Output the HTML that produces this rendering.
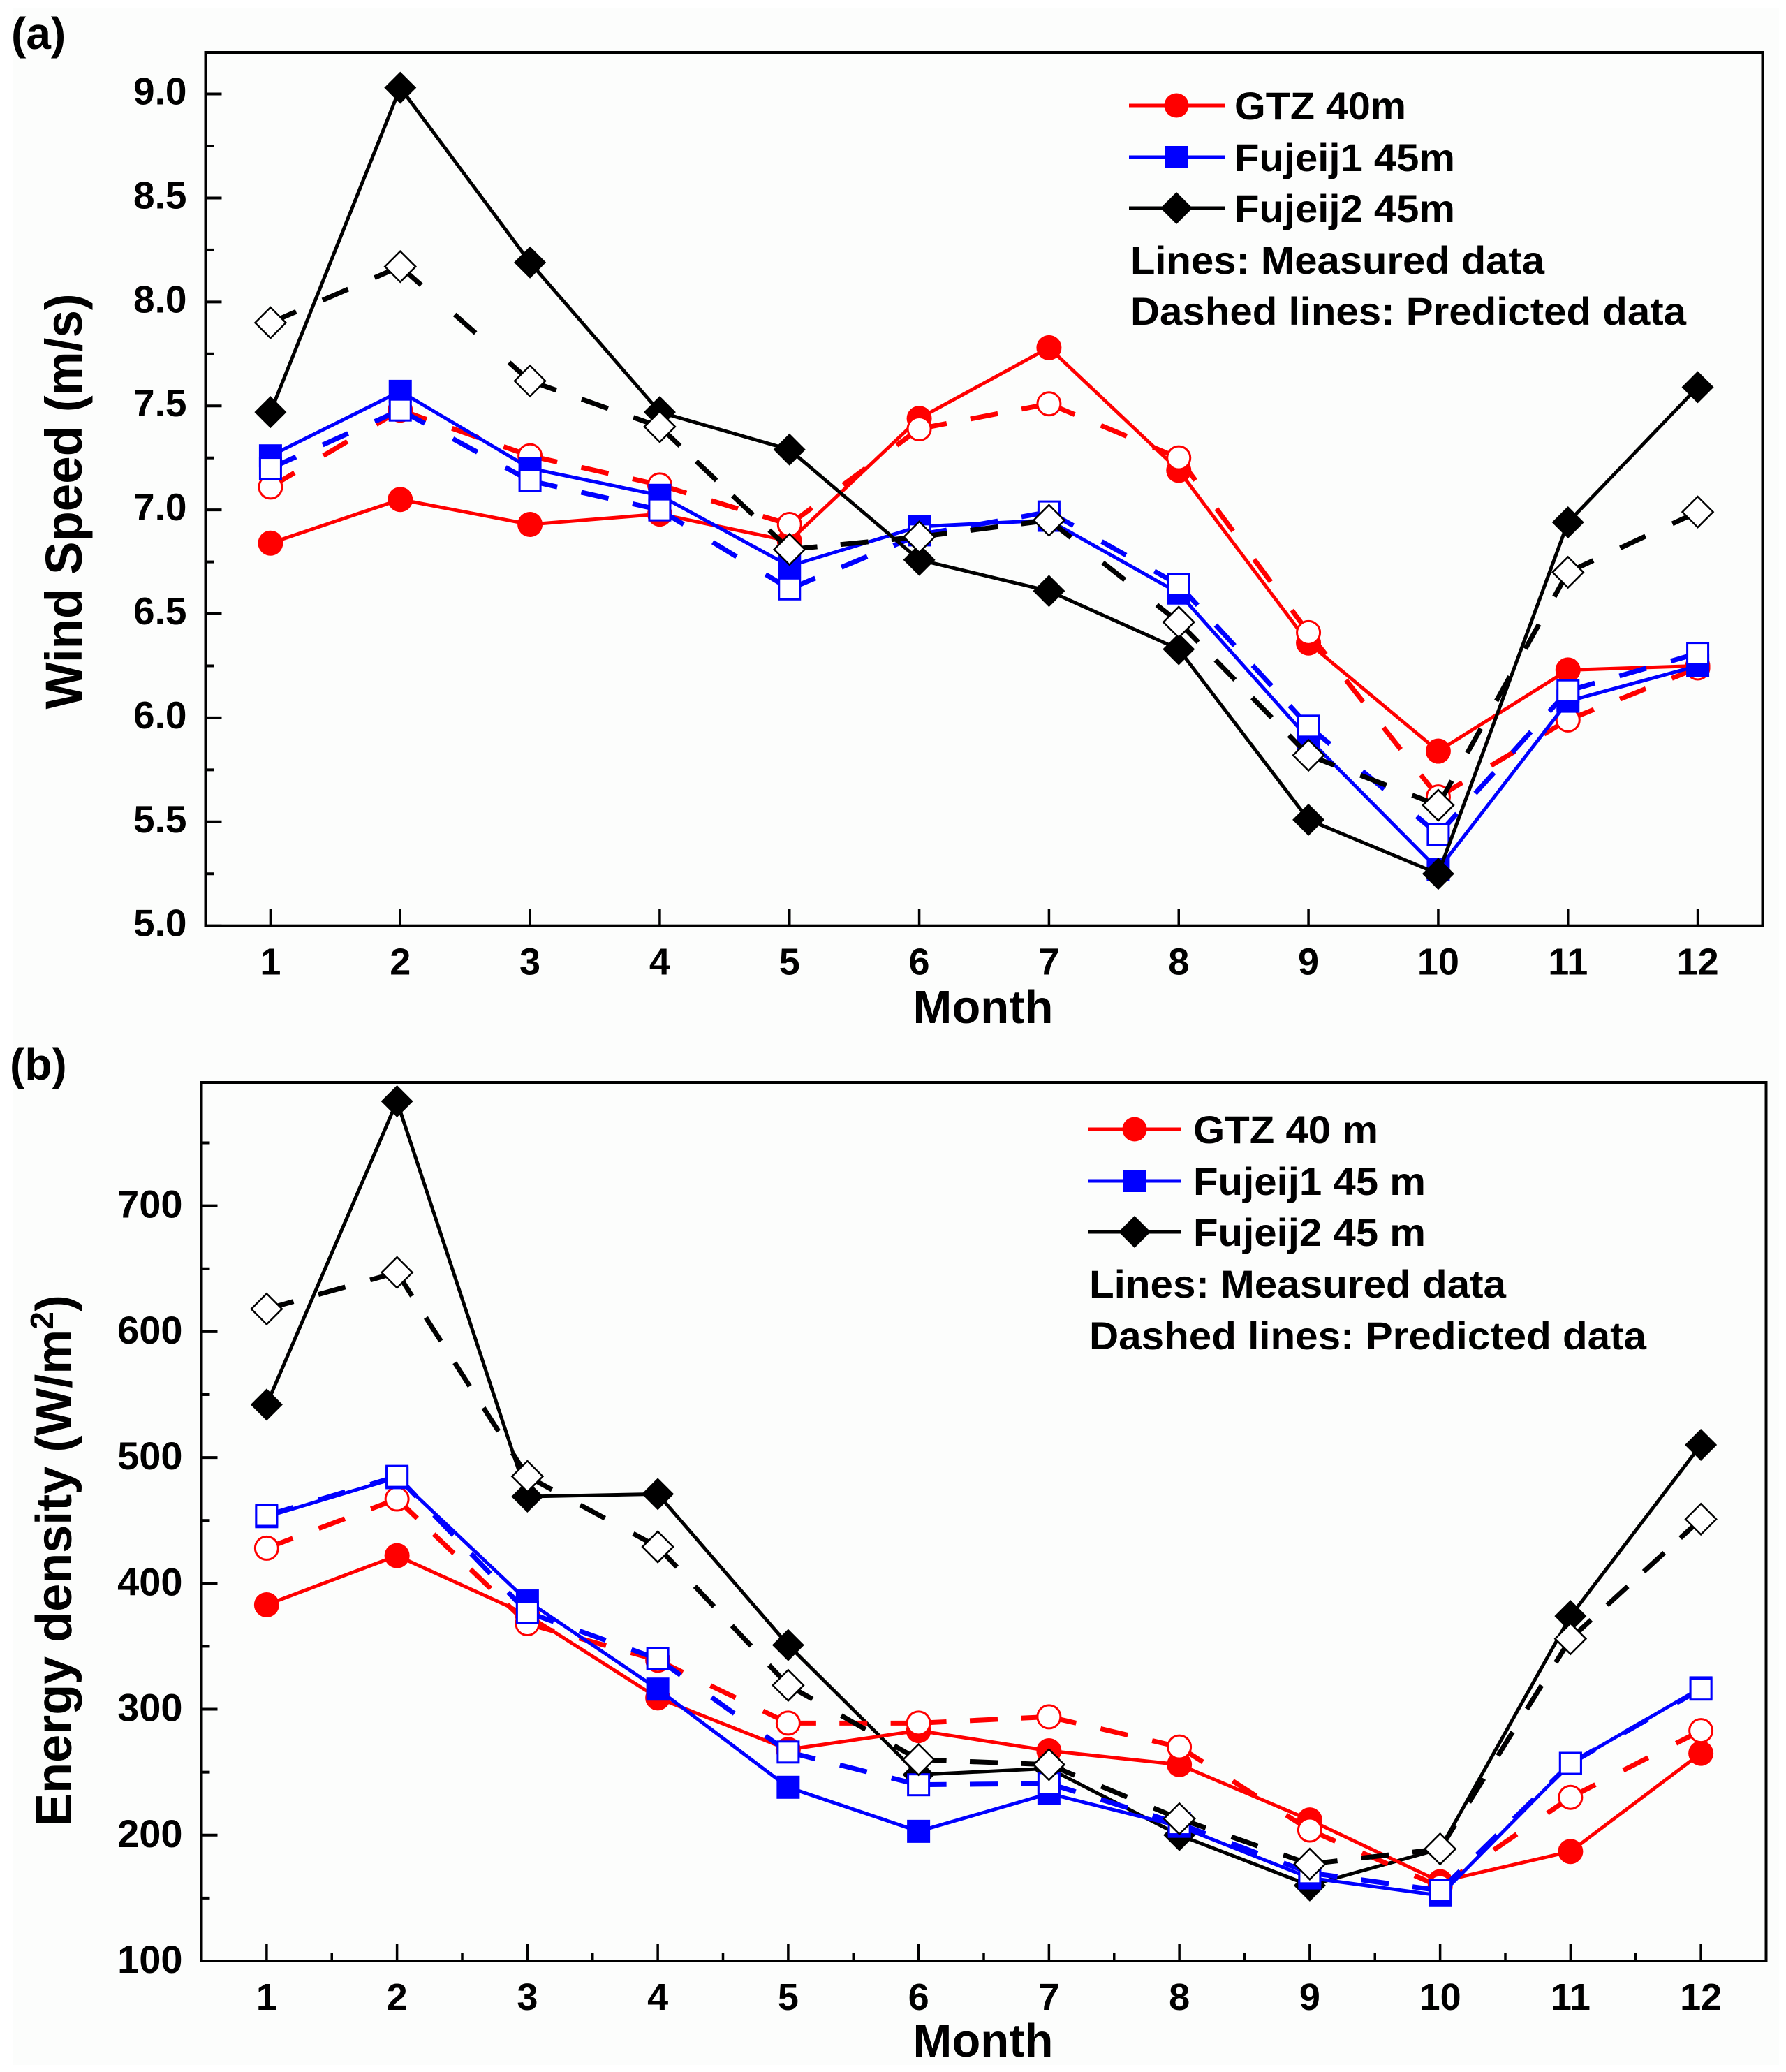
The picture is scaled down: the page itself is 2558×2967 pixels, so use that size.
<!DOCTYPE html>
<html lang="en">
<head>
<meta charset="utf-8">
<title>Monthly wind speed and energy density</title>
<style>
html,body{margin:0;padding:0;background:#fff;}
svg{display:block;}
text{font-family:"Liberation Sans",sans-serif;font-weight:bold;fill:#000;}
</style>
</head>
<body>
<svg id="chart" xmlns="http://www.w3.org/2000/svg" width="2558" height="2967" viewBox="0 0 2558 2967">
  <rect x="0" y="0" width="2558" height="2967" fill="#fff"/>
  <rect x="18" y="12" width="2530" height="2945" fill="#fcfdfc"/>

  <g id="panel-a"></g>
  <g id="panel-b"></g>

  <text x="16" y="70" font-size="64">(a)</text>
  <text x="14" y="1546" font-size="64">(b)</text>

  <text x="1408" y="1465" font-size="67" text-anchor="middle">Month</text>
  <text x="1408" y="2945" font-size="67" text-anchor="middle">Month</text>

  <text transform="translate(117,718) rotate(-90)" font-size="74" text-anchor="middle" textLength="595" lengthAdjust="spacingAndGlyphs">Wind Speed (m/s)</text>
  <text transform="translate(102,2235) rotate(-90)" font-size="72" text-anchor="middle">Energy density (W/m<tspan dy="-26" font-size="46">2</tspan><tspan dy="26">)</tspan></text>

  <g>
    <g>
      <line x1="1617" y1="151" x2="1754" y2="151" stroke="#ff0000" stroke-width="5"/>
      <circle cx="1685" cy="151" r="17.5" fill="#ff0000"/>
      <text x="1768" y="171" font-size="56" textLength="246" lengthAdjust="spacingAndGlyphs">GTZ 40m</text>
    </g>
    <g>
      <line x1="1617" y1="225" x2="1754" y2="225" stroke="#0000ff" stroke-width="5"/>
      <rect x="1669" y="209" width="32" height="32" fill="#0000ff"/>
      <text x="1768" y="245" font-size="56" textLength="316" lengthAdjust="spacingAndGlyphs">Fujeij1 45m</text>
    </g>
    <g>
      <line x1="1617" y1="298" x2="1754" y2="298" stroke="#000" stroke-width="5"/>
      <polygon points="1685,275 1708,298 1685,321 1662,298" fill="#000"/>
      <text x="1768" y="318" font-size="56" textLength="316" lengthAdjust="spacingAndGlyphs">Fujeij2 45m</text>
    </g>
    <text x="1619" y="392" font-size="56" textLength="593" lengthAdjust="spacingAndGlyphs">Lines: Measured data</text>
    <text x="1619" y="465" font-size="56" textLength="796" lengthAdjust="spacingAndGlyphs">Dashed lines: Predicted data</text>
  </g>

  <g>
    <g>
      <line x1="1558" y1="1617" x2="1692" y2="1617" stroke="#ff0000" stroke-width="5"/>
      <circle cx="1625" cy="1617" r="17.5" fill="#ff0000"/>
      <text x="1709" y="1637" font-size="56" textLength="265" lengthAdjust="spacingAndGlyphs">GTZ 40 m</text>
    </g>
    <g>
      <line x1="1558" y1="1691" x2="1692" y2="1691" stroke="#0000ff" stroke-width="5"/>
      <rect x="1609" y="1675" width="32" height="32" fill="#0000ff"/>
      <text x="1709" y="1711" font-size="56" textLength="333" lengthAdjust="spacingAndGlyphs">Fujeij1 45 m</text>
    </g>
    <g>
      <line x1="1558" y1="1764" x2="1692" y2="1764" stroke="#000" stroke-width="5"/>
      <polygon points="1625,1741 1648,1764 1625,1787 1602,1764" fill="#000"/>
      <text x="1709" y="1784" font-size="56" textLength="333" lengthAdjust="spacingAndGlyphs">Fujeij2 45 m</text>
    </g>
    <text x="1560" y="1858" font-size="56" textLength="597" lengthAdjust="spacingAndGlyphs">Lines: Measured data</text>
    <text x="1560" y="1932" font-size="56" textLength="798" lengthAdjust="spacingAndGlyphs">Dashed lines: Predicted data</text>
  </g>
</svg>

<script>
var months = [1,2,3,4,5,6,7,8,9,10,11,12];

var windTicks = [5.0,5.5,6.0,6.5,7.0,7.5,8.0,8.5,9.0];
var windTickLabels = ["5.0","5.5","6.0","6.5","7.0","7.5","8.0","8.5","9.0"];
var windMinorTicks = [5.25,5.75,6.25,6.75,7.25,7.75,8.25,8.75];

var energyTicks = [100,200,300,400,500,600,700];
var energyTickLabels = ["100","200","300","400","500","600","700"];
var energyMinorTicks = [150,250,350,450,550,650,750];
var energyMinorMonths = [1.5,2.5,3.5,4.5,5.5,6.5,7.5,8.5,9.5,10.5,11.5];

var windGtzMeasured = [6.84,7.05,6.93,6.98,6.85,7.44,7.78,7.19,6.36,5.84,6.23,6.25];
var windGtzPredicted = [7.11,7.48,7.26,7.12,6.93,7.39,7.51,7.25,6.41,5.62,5.99,6.24];
var windF1Measured = [7.26,7.57,7.20,7.07,6.73,6.92,6.95,6.60,5.90,5.27,6.08,6.25];
var windF1Predicted = [7.20,7.48,7.14,7.00,6.62,6.88,6.99,6.64,5.96,5.44,6.13,6.31];
var windF2Measured = [7.47,9.03,8.19,7.47,7.29,6.76,6.61,6.33,5.51,5.25,6.94,7.59];
var windF2Predicted = [7.90,8.17,7.62,7.40,6.81,6.87,6.95,6.46,5.82,5.58,6.70,6.99];

var energyGtzMeasured = [383,422,375,309,268,283,267,256,212,163,187,265];
var energyGtzPredicted = [428,467,368,339,289,289,294,270,204,159,230,283];
var energyF1Measured = [453,484,386,316,238,203,233,207,166,152,257,317];
var energyF1Predicted = [454,485,377,340,266,240,241,209,170,156,257,316];
var energyF2Measured = [542,783,469,471,351,248,253,200,160,189,374,510];
var energyF2Predicted = [618,647,485,429,319,260,256,213,177,189,356,451];

var SVGNS = "http://www.w3.org/2000/svg";

function mk(parent, tag, attrs) {
  var el = document.createElementNS(SVGNS, tag);
  for (var k in attrs) { el.setAttribute(k, attrs[k]); }
  parent.appendChild(el);
  return el;
}

function markerShape(g, kind, filled, color, x, y) {
  var fill = filled ? color : "#fff";
  var sw = filled ? 0 : 3;
  var el;
  if (kind === "circle") {
    el = mk(g, "circle", {cx: x, cy: y, r: filled ? 18 : 16.5, fill: fill, stroke: color, "stroke-width": sw});
  } else if (kind === "square") {
    var s = filled ? 33 : 30;
    el = mk(g, "rect", {x: x - s / 2, y: y - s / 2, width: s, height: s, fill: fill, stroke: color, "stroke-width": sw});
  } else {
    var d = filled ? 23 : 22;
    el = mk(g, "polygon", {points: x + "," + (y - d) + " " + (x + d) + "," + y + " " + x + "," + (y + d) + " " + (x - d) + "," + y, fill: fill, stroke: color, "stroke-width": filled ? 0 : 2.5});
  }
  return el;
}

function drawSeries(g, xf, yf, values, color, kind, dashed, seriesName) {
  var sg = mk(g, "g", {});
  
  
  for (var i = 0; i < values.length - 1; i++) {
    var x1 = xf(months[i]), y1 = yf(values[i]), x2 = xf(months[i + 1]), y2 = yf(values[i + 1]);
    var seg = mk(sg, "line", {x1: x1, y1: y1, x2: x2, y2: y2, stroke: color, "stroke-width": dashed ? 7 : 5});
    
    
    if (dashed) {
      var L = Math.sqrt((x2 - x1) * (x2 - x1) + (y2 - y1) * (y2 - y1));
      var dash = 40;
      var n = Math.max(1, Math.round((L - dash) / 85));
      var gap = (L - (n + 1) * dash) / n;
      seg.setAttribute("stroke-dasharray", dash + " " + gap);
    }
  }
  for (var j = 0; j < values.length; j++) {
    var mark = markerShape(sg, kind, !dashed, color, xf(months[j]), yf(values[j]));
    
    
  }
}

function drawAxes(g, cfg) {
  var xf = cfg.xf, yf = cfg.yf;
  var i;
  for (i = 0; i < cfg.yTicks.length; i++) {
    var ty = yf(cfg.yTicks[i]);
    var tk = mk(g, "line", {x1: cfg.left, y1: ty, x2: cfg.left + 23, y2: ty, stroke: "#000", "stroke-width": 4});
    
    
    var lb = mk(g, "text", {x: cfg.left - 27, y: ty + cfg.yLabelOffset, "font-size": cfg.yFont, "text-anchor": "end"});
    lb.textContent = cfg.yLabels[i];
    
    
  }
  for (i = 0; i < cfg.yMinor.length; i++) {
    var my = yf(cfg.yMinor[i]);
    var mt = mk(g, "line", {x1: cfg.left, y1: my, x2: cfg.left + 12, y2: my, stroke: "#000", "stroke-width": 4});
    
    
  }
  for (i = 0; i < months.length; i++) {
    var tx = xf(months[i]);
    var xt = mk(g, "line", {x1: tx, y1: cfg.bottom, x2: tx, y2: cfg.bottom - 24, stroke: "#000", "stroke-width": 3.5});
    
    
    var xl = mk(g, "text", {x: tx, y: cfg.bottom + 70, "font-size": 54, "text-anchor": "middle"});
    xl.textContent = String(months[i]);
    
    
  }
  for (i = 0; i < cfg.xMinor.length; i++) {
    var mx = xf(cfg.xMinor[i]);
    var xm = mk(g, "line", {x1: mx, y1: cfg.bottom, x2: mx, y2: cfg.bottom - 12, stroke: "#000", "stroke-width": 3.5});
    
    
  }
  var frame = mk(g, "rect", {x: cfg.left, y: cfg.top, width: cfg.right - cfg.left, height: cfg.bottom - cfg.top, fill: "none", stroke: "#000", "stroke-width": 4});
  
  
}

function scaleX(left, right) {
  return function (m) { return left + (m - 0.5) * (right - left) / 12; };
}
function scaleY(bottom, top, vmin, vmax) {
  return function (v) { return bottom - (v - vmin) * (bottom - top) / (vmax - vmin); };
}

var panelA = document.getElementById("panel-a");
var panelB = document.getElementById("panel-b");

var xA = scaleX(294.5, 2524.5);
var yA = scaleY(1325.7, 75, 5, 9.2);
var xB = scaleX(288.5, 2529.5);
var yB = scaleY(2808, 1550, 100, 798);

drawSeries(panelA, xA, yA, windGtzMeasured, "#ff0000", "circle", false, "wind-gtz-measured");
drawSeries(panelA, xA, yA, windGtzPredicted, "#ff0000", "circle", true, "wind-gtz-predicted");
drawSeries(panelA, xA, yA, windF1Measured, "#0000ff", "square", false, "wind-fujeij1-measured");
drawSeries(panelA, xA, yA, windF1Predicted, "#0000ff", "square", true, "wind-fujeij1-predicted");
drawSeries(panelA, xA, yA, windF2Measured, "#000000", "diamond", false, "wind-fujeij2-measured");
drawSeries(panelA, xA, yA, windF2Predicted, "#000000", "diamond", true, "wind-fujeij2-predicted");
drawAxes(panelA, {xf: xA, yf: yA, left: 294.5, right: 2524.5, top: 75, bottom: 1325.7, yTicks: windTicks, yLabels: windTickLabels, yMinor: windMinorTicks, xMinor: [], yFont: 55, yLabelOffset: 15});

drawSeries(panelB, xB, yB, energyF2Measured, "#000000", "diamond", false, "energy-fujeij2-measured");
drawSeries(panelB, xB, yB, energyGtzMeasured, "#ff0000", "circle", false, "energy-gtz-measured");
drawSeries(panelB, xB, yB, energyGtzPredicted, "#ff0000", "circle", true, "energy-gtz-predicted");
drawSeries(panelB, xB, yB, energyF1Measured, "#0000ff", "square", false, "energy-fujeij1-measured");
drawSeries(panelB, xB, yB, energyF1Predicted, "#0000ff", "square", true, "energy-fujeij1-predicted");
drawSeries(panelB, xB, yB, energyF2Predicted, "#000000", "diamond", true, "energy-fujeij2-predicted");
drawAxes(panelB, {xf: xB, yf: yB, left: 288.5, right: 2529.5, top: 1550, bottom: 2808, yTicks: energyTicks, yLabels: energyTickLabels, yMinor: energyMinorTicks, xMinor: energyMinorMonths, yFont: 56, yLabelOffset: 17});
</script>
</body>
</html>
